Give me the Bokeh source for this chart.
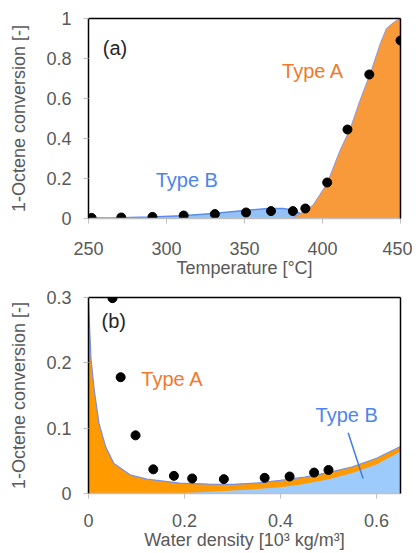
from bokeh.plotting import figure
from bokeh.models import Range1d, FixedTicker, LinearAxis
from bokeh.layouts import column
from bokeh.core.properties import value
from bokeh.embed import file_html
from bokeh.resources import INLINE

FONT = "Liberation Sans"
GRAY = "#595959"

# ---------------- (a) data ----------------
temp_pts = [252, 271, 291, 311, 331, 351, 367, 381, 389, 403, 416, 430, 450]
conv_pts_a = [0.003, 0.005, 0.008, 0.015, 0.022, 0.03, 0.037, 0.037, 0.05, 0.18, 0.445, 0.72, 0.89]
typeB_temp = [250, 270, 290, 310, 330, 350, 365, 375, 382, 388, 393]
typeB_conv_a = [0.002, 0.004, 0.008, 0.014, 0.025, 0.04, 0.05, 0.05, 0.04, 0.015, 0.0]
typeA_temp = [380, 386, 394, 403, 411, 418, 424, 431, 437, 441, 446, 450]
typeA_conv_a = [0.0, 0.025, 0.067, 0.176, 0.336, 0.454, 0.59, 0.733, 0.874, 0.95, 0.983, 1.0]
x_ticks_a = [250, 300, 350, 400, 450]
x_labels_a = ["250", "300", "350", "400", "450"]
y_ticks_a = [0, 0.2, 0.4, 0.6, 0.8, 1]
y_labels_a = ["0", "0.2", "0.4", "0.6", "0.8", "1"]
labels_a = ["(a)", "Type A", "Type B"]
labels_a_x = [267, 394, 313]
labels_a_y = [0.855, 0.74, 0.195]

# ---------------- (b) data ----------------
dens_pts = [0.05, 0.067, 0.098, 0.135, 0.178, 0.216, 0.282, 0.367, 0.419, 0.47, 0.5]
conv_pts_b = [0.299, 0.178, 0.089, 0.037, 0.027, 0.023, 0.022, 0.024, 0.026, 0.032, 0.036]
total_dens = [0, 0.002, 0.005, 0.012, 0.022, 0.036, 0.053, 0.088, 0.122, 0.19, 0.25,
              0.3, 0.35, 0.4, 0.45, 0.5, 0.55, 0.6, 0.65]
total_conv_b = [0.3, 0.26, 0.208, 0.158, 0.107, 0.071, 0.046, 0.028, 0.022, 0.016, 0.0145,
                0.014, 0.016, 0.02, 0.025, 0.032, 0.041, 0.054, 0.072]
typeB_dens = [0, 0.1, 0.2, 0.25, 0.3, 0.35, 0.4, 0.45, 0.5, 0.55, 0.6, 0.65]
typeB_conv_b = [0, 0.0005, 0.003, 0.005, 0.007, 0.009, 0.012, 0.017, 0.024, 0.034, 0.047, 0.067]
pointer_x = [0.541, 0.572]
pointer_y = [0.093, 0.023]
x_ticks_b = [0, 0.2, 0.4, 0.6]
x_labels_b = ["0", "0.2", "0.4", "0.6"]
y_ticks_b = [0, 0.1, 0.2, 0.3]
y_labels_b = ["0", "0.1", "0.2", "0.3"]
labels_b = ["(b)", "Type A", "Type B"]
labels_b_x = [0.0525, 0.175, 0.538]
labels_b_y = [0.264, 0.176, 0.12]

LABEL_COLORS = ["#262626", "#F0792E", "#4D84F0"]


def make_fig(height, xr, yr, border_top, border_bottom):
    p = figure(width=412, height=height, x_range=xr, y_range=yr,
               output_backend="svg", toolbar_location=None,
               min_border_left=88, min_border_right=12,
               min_border_top=border_top, min_border_bottom=border_bottom)
    p.outline_line_color = None
    p.xgrid.visible = False
    p.ygrid.visible = False
    p.background_fill_color = "white"
    return p


def style_axes(p, xt, xl, yt, yl, xtitle, ytitle, x_std, x_title_std):
    for ax, t, l in ((p.xaxis[0], xt, xl), (p.yaxis[0], yt, yl)):
        ax.ticker = FixedTicker(ticks=t)
        ax.major_label_overrides = dict(zip(t, l))
        ax.minor_tick_line_color = None
        ax.major_tick_in = 0
        ax.major_tick_out = 5
        ax.major_tick_line_color = "#bfbfbf"
        ax.major_label_text_font = FONT
        ax.major_label_text_font_size = "18px"
        ax.major_label_text_color = GRAY
        ax.axis_label_text_font = FONT
        ax.axis_label_text_font_size = "18px"
        ax.axis_label_text_font_style = "normal"
        ax.axis_label_text_color = GRAY
    p.xaxis[0].axis_label = xtitle
    p.yaxis[0].axis_label = ytitle
    p.xaxis[0].axis_line_color = "#bfbfbf"
    p.xaxis[0].axis_line_width = 1.5
    p.yaxis[0].axis_line_color = "black"
    p.yaxis[0].axis_line_width = 1.5
    p.xaxis[0].major_label_standoff = x_std
    p.yaxis[0].major_label_standoff = 12
    p.xaxis[0].axis_label_standoff = x_title_std
    p.yaxis[0].axis_label_standoff = 14
    for loc in ("above", "right"):
        ax = LinearAxis(ticker=FixedTicker(ticks=[]), axis_line_color="black",
                        axis_line_width=1.5, major_tick_line_color=None,
                        minor_tick_line_color=None, major_label_text_font_size="0px")
        p.add_layout(ax, loc)


# ---------------- figure (a) ----------------
pa = make_fig(282, Range1d(250, 450), Range1d(0, 1), 18, 64)
pa.varea(x=typeB_temp, y1=0, y2=typeB_conv_a, fill_color="#95C2F5")
pa.line(x=typeB_temp, y=typeB_conv_a, line_color="#5B8DEF", line_width=1.5)
pa.varea(x=typeA_temp, y1=0, y2=typeA_conv_a, fill_color="#F8993A")
pa.line(x=typeA_temp, y=typeA_conv_a, line_color="#8C98DC", line_width=1)
pa.scatter(x=temp_pts, y=conv_pts_a, size=9, color="black")
pa.text(x=labels_a_x, y=labels_a_y, text=labels_a, text_color=LABEL_COLORS,
        text_font=value(FONT), text_font_size="20px",
        text_align="center", text_baseline="middle")
style_axes(pa, x_ticks_a, x_labels_a, y_ticks_a, y_labels_a,
           "Temperature [°C]", "1-Octene conversion [-]", 18, 0)

# ---------------- figure (b) ----------------
pb = make_fig(271, Range1d(0, 0.65), Range1d(0, 0.3), 15, 60)
pb.varea(x=total_dens, y1=0, y2=total_conv_b, fill_color="#FF9A00")
pb.varea(x=typeB_dens, y1=0, y2=typeB_conv_b, fill_color="#9DCBFB")
pb.line(x=typeB_dens, y=typeB_conv_b, line_color="#FF9A00", line_width=3)
pb.line(x=total_dens, y=total_conv_b, line_color="#7590E6", line_width=1.2)
pb.line(x=pointer_x, y=pointer_y, line_color="#3F7BEA", line_width=1.5)
pb.scatter(x=dens_pts, y=conv_pts_b, size=9, color="black")
pb.text(x=labels_b_x, y=labels_b_y, text=labels_b, text_color=LABEL_COLORS,
        text_font=value(FONT), text_font_size="20px",
        text_align="center", text_baseline="middle")
style_axes(pb, x_ticks_b, x_labels_b, y_ticks_b, y_labels_b,
           "Water density [10³ kg/m³]", "1-Octene conversion [-]", 15, 0)

layout = column(pa, pb, spacing=0)
open("out.html", "w").write(file_html(layout, INLINE))
